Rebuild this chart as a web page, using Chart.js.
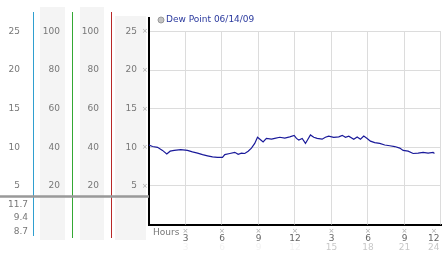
<!DOCTYPE html>
<html lang="en">
<head>
<meta charset="UTF-8">
<title>Dew Point 06/14/09</title>
<script src="https://cdn.jsdelivr.net/npm/chart.js"></script>
<style>
    html, body { margin: 0; padding: 0; background: #fff; }
    .wrap { position: relative; width: 442px; height: 253px; }
</style>
</head>
<body>
<div class="wrap"><canvas id="dewChart"></canvas></div>
<script>
    // readings (hours since midnight) and dew point values
    const hours = [0, 0.29, 0.70, 1.11, 1.46, 1.74, 2.07, 2.61, 3.16, 3.57, 3.99, 4.40, 4.81, 5.22, 5.63, 6.04,
        6.23, 6.64, 7.05, 7.33, 7.60, 7.87, 8.15, 8.42, 8.69, 8.92, 9.19, 9.38, 9.65, 10.07, 10.34, 10.75, 11.16, 11.57, 11.93, 12.12,
        12.31, 12.59, 12.86, 13.27, 13.54, 13.82, 14.23, 14.50, 14.77, 15.18, 15.60, 15.88, 16.15, 16.42, 16.83, 17.11, 17.38, 17.65, 17.93,
        18.20, 18.55, 18.96, 19.38, 19.79, 20.20, 20.61, 20.89, 21.30, 21.71, 22.12, 22.53, 22.94, 23.35, 23.46];
    const dewPoint = [10.3, 10.1, 10.0, 9.6, 9.15, 9.5, 9.6, 9.7, 9.6, 9.4, 9.25, 9.05, 8.9, 8.75, 8.7, 8.7,
        9.05, 9.2, 9.35, 9.1, 9.25, 9.2, 9.5, 9.9, 10.5, 11.3, 10.95, 10.7, 11.15, 11.05, 11.15, 11.3, 11.2, 11.35, 11.55, 11.15,
        10.95, 11.15, 10.5, 11.6, 11.3, 11.15, 11.05, 11.3, 11.45, 11.3, 11.35, 11.55, 11.3, 11.45, 11.05, 11.35, 11.05, 11.45, 11.15,
        10.8, 10.6, 10.5, 10.3, 10.2, 10.1, 9.9, 9.6, 9.5, 9.2, 9.25, 9.35, 9.25, 9.35, 9.2];
    const seriesLabel = 'Dew Point 06/14/09';
    const dewTicks = [5, 10, 15, 20, 25];
    const pctTicks = [20, 40, 60, 80, 100];
    const hourTicks = [3, 6, 9, 12, 15, 18, 21, 24];
    const dewStats = [11.7, 9.4, 8.7];   // shown under the first column
    const dewMax = 26.7;

    const GREY_TXT = '#777';
    Chart.defaults.font.family = 'DejaVu Sans';
    Chart.defaults.font.size = 9;

    function fixWidth(w) { return s => { s.width = w; }; }
    // bottom axes: fixed height, and no extra room for the end labels
    function fixHeight(h) { return s => { s.height = h; s.paddingLeft = 0; s.paddingRight = 0; }; }
    function useTicks(arr) { return s => { s.ticks = arr.map(v => ({ value: v })); }; }
    // last hour label sits at the canvas edge: pad it so it is pulled back inside
    function hourLabel(txt, v) { return v === 24 ? txt + '     ' : txt; }

    function sideAxis(weight, max, ticks, width, pad) {
        return {
            type: 'linear', position: 'left', weight: weight,
            min: 0, max: max,
            afterBuildTicks: useTicks(ticks),
            afterFit: fixWidth(width),
            grid: { display: false, drawTicks: false },
            border: { display: false },
            ticks: { color: GREY_TXT, padding: pad }
        };
    }

    // left panel: backgrounds, coloured rules, separator, stats
    const panelPlugin = {
        id: 'panel',
        beforeDraw(chart) {
            const c = chart.ctx, s = chart.scales;
            c.save();
            c.fillStyle = '#f4f4f4';
            c.fillRect(s.yHum1.left + 7, 7, s.yHum1.width - 14, 233);
            c.fillRect(s.yHum2.left + 8, 7, s.yHum2.width - 15, 233);
            c.fillRect(s.y.left + 4, 16, s.y.width - 7, 224);
            c.restore();
        },
        afterDraw(chart) {
            const c = chart.ctx, s = chart.scales, area = chart.chartArea;
            c.save();
            [[s.yDew.right, '#2f9fd0', 236], [s.yHum1.right, '#34a834', 238], [s.yHum2.right, '#b82828', 238]].forEach(([x, col, end]) => {
                c.strokeStyle = col; c.lineWidth = 1;
                c.beginPath(); c.moveTo(x + 0.5, 12); c.lineTo(x + 0.5, end); c.stroke();
            });
            c.strokeStyle = '#999'; c.lineWidth = 2.5;
            c.beginPath(); c.moveTo(0, area.bottom - 28); c.lineTo(area.left, area.bottom - 28); c.stroke();

            c.fillStyle = GREY_TXT; c.font = '9px "DejaVu Sans"';
            c.textAlign = 'right'; c.textBaseline = 'middle';
            dewStats.forEach((v, i) => c.fillText(v.toFixed(1), s.yDew.right - 5, area.bottom - 20 + i * 13.5));

            // small tick glyphs and hour caption
            c.fillStyle = '#aaa'; c.font = '7px "DejaVu Sans"'; c.textAlign = 'center';
            dewTicks.forEach(v => c.fillText('×', s.y.right - 4, s.y.getPixelForValue(v)));
            hourTicks.forEach(v => c.fillText('×', Math.min(s.x.getPixelForValue(v), chart.width - 8), area.bottom + 7));
            c.fillStyle = GREY_TXT; c.font = '9px "DejaVu Sans"'; c.textAlign = 'left';
            c.fillText('Hours', area.left + 4, area.bottom + 8);

            // legend
            const lx = area.left + 12, ly = 20;
            c.beginPath(); c.arc(lx, ly, 3, 0, Math.PI * 2);
            c.fillStyle = '#c4c4c4'; c.fill(); c.strokeStyle = '#999'; c.lineWidth = 1; c.stroke();
            c.fillStyle = '#2b3a9e'; c.font = '9px "DejaVu Sans"';
            c.fillText(chart.data.datasets[0].label, lx + 5, ly);
            c.restore();
        },
        beforeDatasetsDraw(chart) {
            const c = chart.ctx, s = chart.scales, area = chart.chartArea;
            const top = s.y.getPixelForValue(dewTicks[dewTicks.length - 1]);
            c.save();
            c.strokeStyle = '#dcdcdc'; c.lineWidth = 1;
            hourTicks.forEach(v => {
                const x = Math.round(s.x.getPixelForValue(v)) - 0.5;
                c.beginPath(); c.moveTo(x, top); c.lineTo(x, area.bottom); c.stroke();
            });
            c.restore();
        }
    };

    new Chart(document.getElementById('dewChart'), {
        type: 'line',
        data: {
            datasets: [{
                label: seriesLabel,
                data: hours.map((h, i) => ({ x: h, y: dewPoint[i] })),
                borderColor: '#1a1a9a',
                borderWidth: 1.2,
                pointRadius: 0,
                tension: 0,
                fill: false
            }]
        },
        options: {
            responsive: true,
            maintainAspectRatio: false,
            animation: false,
            layout: { padding: { top: 13, right: 1, left: 0, bottom: 0 } },
            plugins: { legend: { display: false }, tooltip: { enabled: false } },
            scales: {
                x: {
                    type: 'linear', position: 'bottom', weight: 0,
                    min: 0, max: 24,
                    afterBuildTicks: useTicks(hourTicks),
                    afterFit: fixHeight(18),
                    grid: { display: false, drawTicks: false },
                    border: { color: '#000', width: 2 },
                    ticks: { color: '#666', padding: 8.5, maxRotation: 0, autoSkip: false,
                             callback: v => hourLabel(String(v % 12 === 0 ? 12 : v % 12), v) }
                },
                x2: {
                    type: 'linear', position: 'bottom', weight: 1,
                    min: 0, max: 24,
                    afterBuildTicks: useTicks(hourTicks),
                    afterFit: fixHeight(10.5),
                    grid: { display: false, drawTicks: false },
                    border: { display: false },
                    ticks: { padding: 0, maxRotation: 0, autoSkip: false,
                             callback: v => hourLabel(String(v), v),
                             color: ctx => ctx.tick && ctx.tick.value > 12 ? '#c8c8c8' : '#f2f2f2' }
                },
                y: {
                    type: 'linear', position: 'left', weight: 0,
                    min: 0, max: dewMax,
                    afterBuildTicks: useTicks(dewTicks),
                    afterFit: fixWidth(38),
                    grid: { color: '#dcdcdc', drawTicks: false },
                    border: { color: '#000', width: 2 },
                    ticks: { color: GREY_TXT, padding: 12 }
                },
                yHum2: sideAxis(1, dewMax * 4, pctTicks, 39, 12),
                yHum1: sideAxis(2, dewMax * 4, pctTicks, 39, 12),
                yDew: sideAxis(3, dewMax, dewTicks, 33, 13)
            }
        },
        plugins: [panelPlugin]
    });
</script>
</body>
</html>
